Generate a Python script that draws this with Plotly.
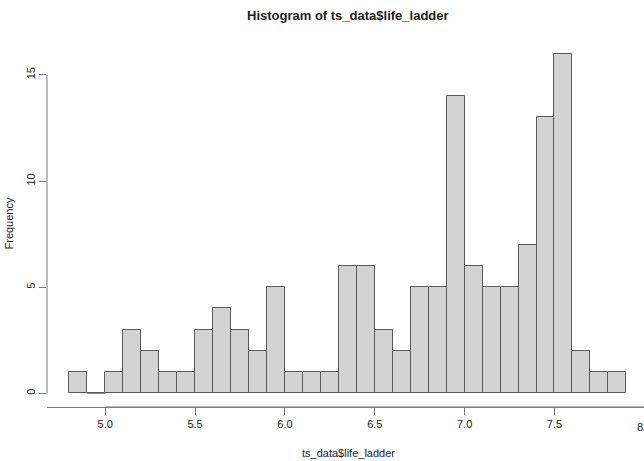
import plotly.graph_objects as go

# Histogram data: bin left edges (width 0.1) and counts
bin_starts = [4.8, 4.9, 5.0, 5.1, 5.2, 5.3, 5.4, 5.5, 5.6, 5.7, 5.8, 5.9,
              6.0, 6.1, 6.2, 6.3, 6.4, 6.5, 6.6, 6.7, 6.8, 6.9,
              7.0, 7.1, 7.2, 7.3, 7.4, 7.5, 7.6, 7.7, 7.8]
counts = [1, 0, 1, 3, 2, 1, 1, 3, 4, 3, 2, 5,
          1, 1, 1, 6, 6, 3, 2, 5, 5, 14,
          6, 5, 5, 7, 13, 16, 2, 1, 1]
bin_width = 0.1
x_ticks = [5.0, 5.5, 6.0, 6.5, 7.0, 7.5]
x_tick_text = ["5.0", "5.5", "6.0", "6.5", "7.0", "7.5"]
y_ticks = [0, 5, 10, 15]

centers = [round(s + bin_width / 2, 3) for s in bin_starts]

FONT = "Liberation Sans, Arial, sans-serif"
AX = "#7a7a7a"
TXT = "#222222"

fig = go.Figure()
fig.add_trace(go.Bar(
    x=centers, y=counts, width=[bin_width] * len(counts),
    marker=dict(color="#d3d3d3", line=dict(color="#5a5a5a", width=1)),
    hoverinfo="x+y", showlegend=False,
))

# zero-count bins drawn as a baseline segment (as R does)
zx, zy = [], []
for s, c in zip(bin_starts, counts):
    if c == 0:
        zx += [s, s + bin_width, None]
        zy += [0, 0, None]
fig.add_trace(go.Scatter(x=zx, y=zy, mode="lines",
                         line=dict(color="#7a7a7a", width=1),
                         hoverinfo="skip", showlegend=False))

W, H = 644, 461
ml, mt, mb = 47, 40, 54
plot_w = W - ml
plot_h = H - mt - mb
px_per_unit = 179.7
xmin = 4.676
xmax = xmin + plot_w / px_per_unit
ymin, ymax = -0.64, 16.64


def xp(v):
    return (v - xmin) / (xmax - xmin)


fig.update_layout(
    width=W, height=H,
    margin=dict(l=ml, r=0, t=mt, b=mb),
    paper_bgcolor="white", plot_bgcolor="white",
    bargap=0,
    xaxis=dict(range=[xmin, xmax], tickvals=x_ticks, ticktext=x_tick_text,
               ticks="outside", ticklen=7, tickcolor=AX, tickwidth=1,
               showgrid=False, zeroline=False,
               showline=True, linecolor=AX, linewidth=1,
               tickfont=dict(family=FONT, size=11, color=TXT)),
    yaxis=dict(range=[ymin, ymax], tickvals=y_ticks,
               ticks="outside", ticklen=7, tickcolor=AX, tickwidth=1,
               tickangle=-90,
               showgrid=False, zeroline=False, showline=False,
               tickfont=dict(family=FONT, size=11, color=TXT)),
    shapes=[
        dict(type="line", xref="paper", yref="paper",
             x0=xp(5.0), x1=1, y0=0, y1=0,
             line=dict(color=AX, width=1)),
        dict(type="line", xref="paper", yref="y",
             x0=0, x1=0, y0=0, y1=15,
             line=dict(color=AX, width=1)),
    ],
    annotations=[
        dict(text="<b>Histogram of ts_data$life_ladder</b>", xref="paper", yref="paper",
             x=(348 - ml) / plot_w, y=1, yshift=25, showarrow=False,
             font=dict(family=FONT, size=13, color=TXT), xanchor="center", yanchor="middle"),
        dict(text="ts_data$life_ladder", xref="paper", yref="paper",
             x=(348 - ml) / plot_w, y=0, yshift=-46, showarrow=False,
             font=dict(family=FONT, size=11, color=TXT), xanchor="center", yanchor="middle"),
        dict(text="Frequency", xref="paper", yref="paper", x=0, xshift=-39,
             y=0.5, textangle=-90, showarrow=False,
             font=dict(family=FONT, size=11, color=TXT), xanchor="center", yanchor="middle"),
        dict(text="8.0", xref="paper", yref="paper", x=xp(8.0), y=0, yshift=-20,
             showarrow=False, font=dict(family=FONT, size=11, color=TXT),
             xanchor="center", yanchor="middle"),
    ],
)

fig.write_html("out.html")
